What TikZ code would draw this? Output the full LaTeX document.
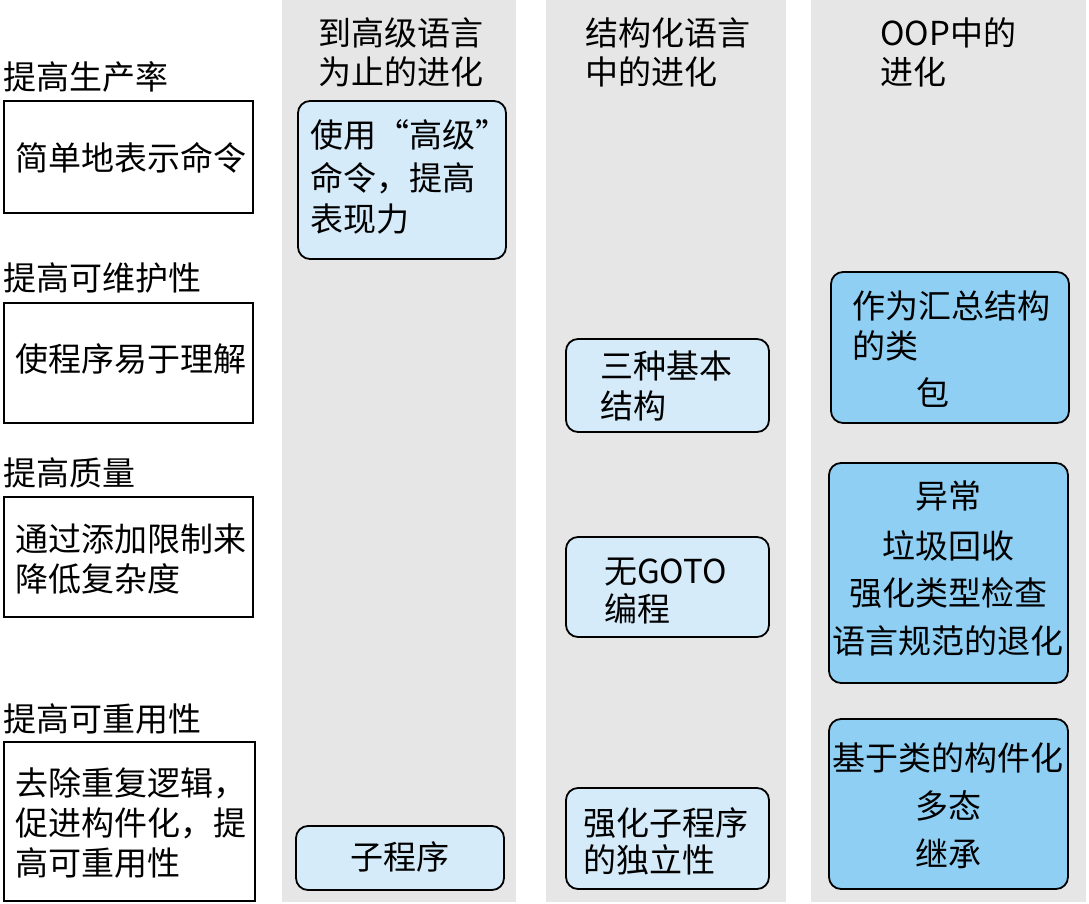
\documentclass[tikz,border=0pt]{standalone}
\usepackage{fontspec}
\setmainfont{Noto Sans CJK SC}
\definecolor{colgray}{HTML}{E6E6E6}
\definecolor{lightblue}{HTML}{D5EBF9}
\definecolor{darkblue}{HTML}{8ECFF3}
\begin{document}
\begin{tikzpicture}[x=1pt,y=-1pt,
  txt/.style={inner sep=0pt,text height=29pt,text depth=3pt,font=\fontsize{33}{40}\selectfont},
  wtxt/.style={txt,anchor=west},
  lbox/.style={draw=black,line width=1.5pt,fill=white,inner sep=0pt},
  lbbox/.style={draw=black,line width=1.8pt,fill=lightblue,rounded corners=12pt,inner sep=0pt},
  dbbox/.style={draw=black,line width=1.8pt,fill=darkblue,rounded corners=12pt,inner sep=0pt}]
\useasboundingbox (0,0) rectangle (1089,904);
% columns
\fill[colgray] (282,0) rectangle (516,902);
\fill[colgray] (546,0) rectangle (786,902);
\fill[colgray] (811,0) rectangle (1086,902);
% left labels
\node[wtxt] (h1) at (3,77) {提高生产率};
\node[wtxt] (h2) at (3,277) {提高可维护性};
\node[wtxt] (h3) at (3,472) {提高质量};
\node[wtxt] (h4) at (3,718) {提高可重用性};
% left boxes
\node[lbox,minimum width=249pt,minimum height=112pt] (l1) at (128.5,157) {};
\node[lbox,minimum width=249pt,minimum height=120pt] (l2) at (128.5,363) {};
\node[lbox,minimum width=249pt,minimum height=120pt] (l3) at (128.5,557) {};
\node[lbox,minimum width=251pt,minimum height=159pt] (l4) at (129.5,821.5) {};
\node[wtxt] (l1a) at (15,158) {简单地表示命令};
\node[wtxt] (l2a) at (15,358) {使程序易于理解};
\node[wtxt] (l3a) at (15,538) {通过添加限制来};
\node[wtxt] (l3b) at (15,578) {降低复杂度};
\node[wtxt] (l4a) at (15,782) {去除重复逻辑，};
\node[wtxt] (l4b) at (15,822) {促进构件化，提};
\node[wtxt] (l4c) at (15,862) {高可重用性};
% headers
\node[wtxt] (c1a) at (318,33) {到高级语言};
\node[wtxt] (c1b) at (318,72) {为止的进化};
\node[wtxt] (c2a) at (585,33) {结构化语言};
\node[wtxt] (c2b) at (585,72) {中的进化};
\node[wtxt] (c3a) at (880,33) {OOP中的};
\node[wtxt] (c3b) at (880,72) {进化};
% column 1 boxes
\node[lbbox,minimum width=208pt,minimum height=158pt] (a1) at (402,180) {};
\node[wtxt] (a1a) at (310,135) {使用“高级”};
\node[wtxt] (a1b) at (310,177) {命令，提高};
\node[wtxt] (a1c) at (310,218) {表现力};
\node[lbbox,minimum width=208pt,minimum height=64pt] (a2) at (400,858) {};
\node[txt] (a2a) at (400,856) {子程序};
% column 2 boxes
\node[lbbox,minimum width=203pt,minimum height=93pt] (b1) at (667.5,385.5) {};
\node[wtxt] (b1a) at (600,365) {三种基本};
\node[wtxt] (b1b) at (600,405) {结构};
\node[lbbox,minimum width=203pt,minimum height=100pt] (b2) at (667.5,587) {};
\node[wtxt] (b2a) at (604,570) {无GOTO};
\node[wtxt] (b2b) at (604,608) {编程};
\node[lbbox,minimum width=203pt,minimum height=101pt] (b3) at (667.5,838.5) {};
\node[wtxt] (b3a) at (583,822) {强化子程序};
\node[wtxt] (b3b) at (583,859) {的独立性};
% column 3 boxes
\node[dbbox,minimum width=238pt,minimum height=151pt] (d1) at (950,347.5) {};
\node[wtxt] (d1a) at (852,305) {作为汇总结构};
\node[wtxt] (d1b) at (852,345) {的类};
\node[txt] (d1c) at (933,392) {包};
\node[dbbox,minimum width=239pt,minimum height=220pt] (d2) at (948.5,573) {};
\node[txt] (d2a) at (948,495) {异常};
\node[txt] (d2b) at (948,545) {垃圾回收};
\node[txt] (d2c) at (948,592) {强化类型检查};
\node[txt] (d2d) at (948,640) {语言规范的退化};
\node[dbbox,minimum width=239pt,minimum height=170pt] (d3) at (948.5,804) {};
\node[txt] (d3a) at (948,757) {基于类的构件化};
\node[txt] (d3b) at (948,805) {多态};
\node[txt] (d3c) at (948,853) {继承};
\end{tikzpicture}
\end{document}
